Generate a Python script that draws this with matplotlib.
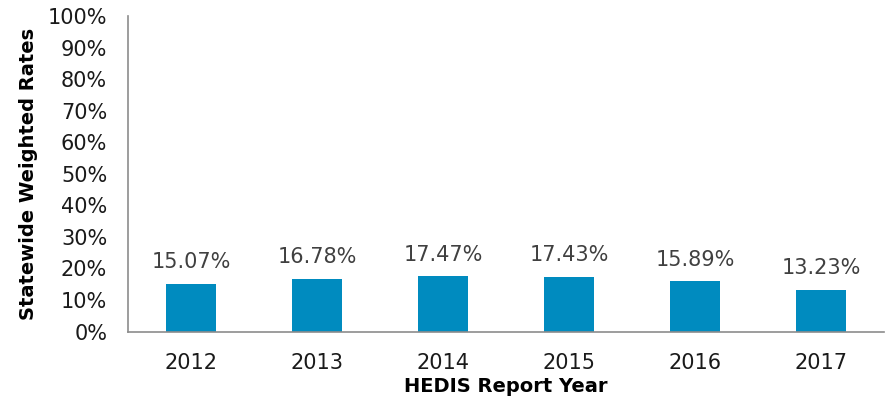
import matplotlib
matplotlib.use("Agg")
import matplotlib.pyplot as plt
from matplotlib.ticker import PercentFormatter, MultipleLocator

years = ["2012", "2013", "2014", "2015", "2016", "2017"]
rates = [15.07, 16.78, 17.47, 17.43, 15.89, 13.23]

plt.rcParams['font.family'] = ['DejaVu Sans']
fig = plt.figure(figsize=(8.96, 4.01), dpi=100)
ax = fig.add_axes([0.1429, 0.1733, 0.8437, 0.7867])

x = range(len(years))
bars = ax.bar(x, rates, width=0.4, color="#008BBF")
for xi, v in zip(x, rates):
    ax.annotate(f"{v:.2f}%", (xi, v), xytext=(0, 8.5), textcoords="offset points",
                ha="center", va="bottom", fontsize=15, color="#404040")

ax.set_xlim(-0.5, len(years) - 0.5)
ax.set_ylim(0, 100)
ax.yaxis.set_major_locator(MultipleLocator(10))
ax.yaxis.set_major_formatter(PercentFormatter(decimals=0))
ax.set_xticks(list(x))
ax.set_xticklabels(years)
ax.tick_params(axis="both", length=0, labelsize=15, colors="#1a1a1a")
ax.tick_params(axis="x", pad=15.5)
ax.tick_params(axis="y", pad=15)
for s in ["top", "right"]:
    ax.spines[s].set_visible(False)
for s in ["left", "bottom"]:
    ax.spines[s].set_color("#8c8c8c")
    ax.spines[s].set_linewidth(1.2)

ax.set_xlabel("HEDIS Report Year", fontsize=14, fontweight="bold", labelpad=3)
ax.set_ylabel("Statewide Weighted Rates", fontsize=14, fontweight="bold", labelpad=7)

fig.savefig("out.png", dpi=100)
